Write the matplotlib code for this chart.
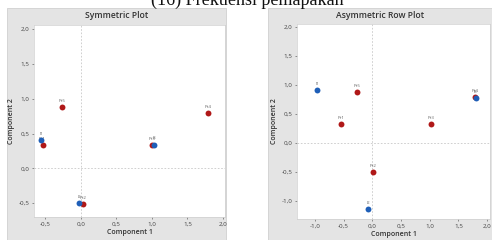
import matplotlib
matplotlib.use("Agg")
import matplotlib.pyplot as plt
from matplotlib.patches import Rectangle
from matplotlib.ticker import FuncFormatter

plt.rcParams["font.family"] = ["Open Sans", "DejaVu Sans"]

ROW_LABELS = ["Pr1", "Pr2", "Pr3", "Pr4", "Pr5"]
COL_LABELS = ["I1", "I2", "I3"]

# symmetric plot
SYM_ROW_X = [-0.54, 0.03, 1.00, 1.79, -0.27]
SYM_ROW_Y = [0.33, -0.52, 0.33, 0.79, 0.88]
SYM_COL_X = [-0.56, -0.02, 1.03]
SYM_COL_Y = [0.40, -0.50, 0.34]

# asymmetric row plot
ASY_ROW_X = [-0.54, 0.02, 1.02, 1.79, -0.26]
ASY_ROW_Y = [0.33, -0.50, 0.33, 0.79, 0.88]
ASY_COL_X = [-0.96, -0.07, 1.80]
ASY_COL_Y = [0.91, -1.14, 0.78]

RED = "#b01818"
BLUE = "#1f5fb8"
PANEL_BG = "#e4e4e4"

W, H = 492, 240
fig = plt.figure(figsize=(W / 100, H / 100), dpi=100)


def fx(px):
    return px / W


def fy(py):
    return 1 - py / H


comma = FuncFormatter(lambda v, _: f"{v:.1f}".replace(".", ","))


def panel(box, ax_box, title, xlim, ylim, xticks, yticks, rows, cols):
    x0, y0, x1, y1 = box
    fig.patches.append(Rectangle((fx(x0), fy(y1)), fx(x1 - x0), (y1 - y0) / H,
                                 transform=fig.transFigure, facecolor=PANEL_BG,
                                 edgecolor="#d0d0d0", lw=0.6, zorder=-5))
    fig.text(fx((x0 + x1) / 2), fy(15), title, ha="center", va="center",
             fontsize=6.2, fontweight="semibold", color="#333333")
    l, t, r, b = ax_box
    ax = fig.add_axes([fx(l), fy(b), fx(r - l), (b - t) / H], zorder=2)
    ax.set_facecolor("white")
    ax.set_xlim(xlim)
    ax.set_ylim(ylim)
    ax.set_xticks(xticks)
    ax.set_yticks(yticks)
    ax.xaxis.set_major_formatter(comma)
    ax.yaxis.set_major_formatter(comma)
    ax.tick_params(labelsize=4.5, colors="#444444", length=1.2, width=0.4, pad=2)
    for s in ax.spines.values():
        s.set_color("#cfcfcf")
        s.set_linewidth(0.5)
    ax.axhline(0, color="#c8c8c8", lw=0.6, ls=(0, (2, 2)), zorder=1)
    ax.axvline(0, color="#c8c8c8", lw=0.6, ls=(0, (2, 2)), zorder=1)
    ax.set_xlabel("Component 1", fontsize=5, fontweight="semibold",
                  color="#333333", labelpad=2)
    ax.set_ylabel("Component 2", fontsize=5, fontweight="semibold",
                  color="#333333", labelpad=3)
    rx, ry = rows
    cx, cy = cols
    ax.scatter(rx, ry, s=18, color=RED, zorder=3, linewidths=0)
    ax.scatter(cx, cy, s=18, color=BLUE, zorder=4, linewidths=0)
    for lab, x, y in zip(ROW_LABELS, rx, ry):
        ax.annotate(lab, (x, y), xytext=(0, 3), textcoords="offset points",
                    ha="center", va="bottom", fontsize=3.2, color="#666666")
    for lab, x, y in zip(COL_LABELS, cx, cy):
        ax.annotate(lab, (x, y), xytext=(0, 3), textcoords="offset points",
                    ha="center", va="bottom", fontsize=3.2, color="#666666")
    return ax


panel((7, 8, 226, 241), (34, 25, 225, 217), "Symmetric Plot",
      (-0.66, 2.03), (-0.70, 2.06),
      [-0.5, 0.0, 0.5, 1.0, 1.5, 2.0], [-0.5, 0.0, 0.5, 1.0, 1.5, 2.0],
      (SYM_ROW_X, SYM_ROW_Y), (SYM_COL_X, SYM_COL_Y))

panel((268, 8, 493, 241), (297, 24, 490, 219), "Asymmetric Row Plot",
      (-1.31, 2.05), (-1.31, 2.05),
      [-1.0, -0.5, 0.0, 0.5, 1.0, 1.5, 2.0], [-1.0, -0.5, 0.0, 0.5, 1.0, 1.5, 2.0],
      (ASY_ROW_X, ASY_ROW_Y), (ASY_COL_X, ASY_COL_Y))

# caption cut off at the top of the image
fig.text(fx(247), fy(4.5), "(16) Frekuensi pemapakan", ha="center", va="baseline",
         fontsize=13, family=["Liberation Serif", "DejaVu Serif"], color="#111111")

fig.savefig("out.png", dpi=100)
